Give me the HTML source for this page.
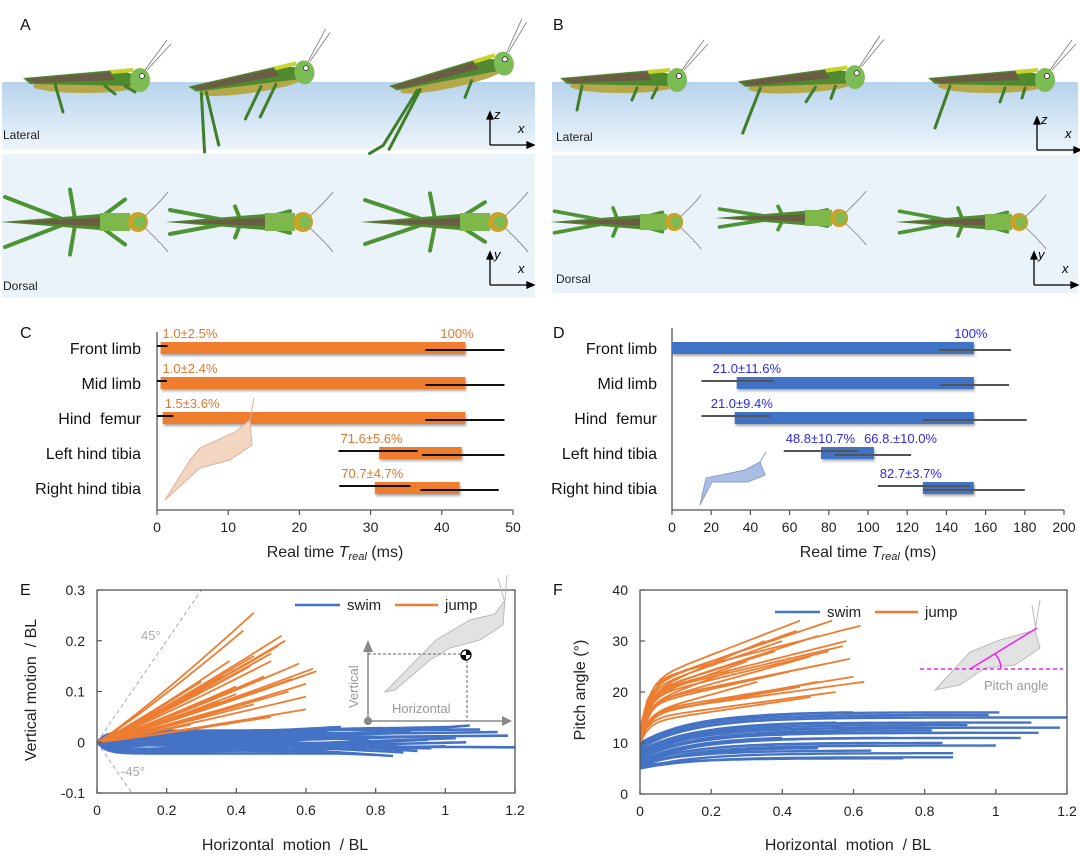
<!DOCTYPE html>
<html><head><meta charset="utf-8"><style>
html,body{margin:0;padding:0;background:#fff;}
svg{display:block;font-family:"Liberation Sans",Arial,sans-serif;}
text{white-space:pre;}
</style></head><body>
<svg id="fig" width="1080" height="858" viewBox="0 0 1080 858" xmlns="http://www.w3.org/2000/svg">
<defs>
<linearGradient id="latg" x1="0" y1="0" x2="0" y2="1"><stop offset="0" stop-color="#b7d3ec"/><stop offset="1" stop-color="#eef5fb"/></linearGradient>
<filter id="sh" x="-5%" y="-30%" width="110%" height="180%"><feDropShadow dx="1" dy="2" stdDeviation="1.2" flood-color="#000" flood-opacity="0.35"/></filter>
</defs>
<rect x="2" y="82" width="533" height="68" fill="url(#latg)"/>
<rect x="2" y="154" width="533" height="144" fill="#ebf3fa"/>
<rect x="552" y="82" width="526" height="70" fill="url(#latg)"/>
<rect x="552" y="155" width="526" height="138" fill="#ebf3fa"/>
<g id="bugs"></g>
<g font-size="12" fill="#222">
<text x="3" y="139">Lateral</text>
<text x="3" y="290">Dorsal</text>
<text x="556" y="141">Lateral</text>
<text x="556" y="283">Dorsal</text>
</g>
<g id="axesicons" stroke="#000" stroke-width="1.3" fill="none"></g>
<g font-size="16" fill="#111">
<text x="20" y="30">A</text>
<text x="553" y="30">B</text>
<text x="20" y="338">C</text>
<text x="553" y="338">D</text>
<text x="20" y="595">E</text>
<text x="553" y="595">F</text>
</g>
<g id="chartC"></g>
<g id="chartD"></g>
<g id="chartE"></g>
<g id="chartF"></g>
</svg>
<script>
// ---------- data: panel C (jump, ms) ----------
const limbCats = ["Front limb","Mid limb","Hind  femur","Left hind tibia","Right hind tibia"];
const cStart = [0.5,0.5,0.8,31.2,30.6];
const cEnd = [43.3,43.3,43.3,42.8,42.5];
const cStartErrLo = [0,0,0,25.5,25.6];
const cStartErrHi = [1.5,1.4,2.3,36.6,35.6];
const cEndErrLo = [37.7,37.7,37.7,37.2,37.0];
const cEndErrHi = [48.8,48.8,48.8,48.8,48.0];
const cLabels = ["1.0±2.5%","1.0±2.4%","1.5±3.6%","71.6±5.6%","70.7±4.7%"];
const cTicks = [0,10,20,30,40,50];
// ---------- data: panel D (swim, ms) ----------
const dStart = [0,33,32,76,128];
const dEnd = [154,154,154,103,154];
const dStartErrLo = [null,15,15,57,105];
const dStartErrHi = [null,52,50,95,152];
const dEndErrLo = [136,137,128,83,128];
const dEndErrHi = [173,172,181,122,180];
const dLabels = ["","21.0±11.6%","21.0±9.4%","48.8±10.7%","82.7±3.7%"];
const dTicks = [0,20,40,60,80,100,120,140,160,180,200];
// ---------- data: panel E ----------
const eJumpX = [0.45,0.42,0.53,0.54,0.52,0.5,0.45,0.38,0.44,0.58,0.62,0.63,0.6,0.6,0.6,0.5,0.35,0.4,0.3,0.48,0.55,0.25,0.33,0.27,0.2,0.45,0.36,0.5,0.56,0.4];
const eJumpY = [0.255,0.22,0.21,0.2,0.19,0.175,0.17,0.16,0.15,0.155,0.145,0.14,0.115,0.09,0.065,0.05,0.08,0.11,0.12,0.13,0.1,0.1,0.06,0.035,0.07,0.075,0.13,0.16,0.125,0.095];
const eSwimX = [1.07,1.01,1.18,1.2,1.06,0.92,0.85,0.8,0.9,0.95,0.7,0.75,0.6,0.65,1.1,0.88,0.5,0.55,1.0,0.82,0.7,0.98,0.6,0.78,1.15,0.45,0.68,0.72,0.93,0.86,0.62,1.03,0.77,0.58,0.96,0.84];
const eSwimY = [0.033,0.03,0.013,-0.01,0.0,-0.017,-0.027,-0.025,0.02,0.005,0.015,-0.01,0.02,-0.015,0.025,-0.02,0.01,-0.018,-0.008,0.028,0.03,0.012,-0.005,0.005,0.02,-0.012,0.024,-0.022,0.018,-0.004,0.026,0.008,-0.016,0.0,-0.012,0.022];
const eYTicks = [-0.1,0,0.1,0.2,0.3];
const eXTicks = [0,0.2,0.4,0.6,0.8,1,1.2];
// ---------- data: panel F ----------
const fJumpX = [0.45,0.54,0.62,0.5,0.58,0.57,0.4,0.35,0.48,0.59,0.52,0.6,0.63,0.5,0.55,0.48,0.42,0.3,0.38,0.45,0.53,0.33,0.25,0.44];
const fJumpY = [34,34,33,31,30,29,30,30,27,26.5,25.5,23,22,22,20,19,24,26,28,21,28,22,24,32];
const fJumpStart = [12,11,13,10.5,11.5,12,12.5,11,10,11,12,10.5,11,10,10.5,10,12,12.5,13,11,11.5,10.5,12,12];
const fSwimX = [1.2,1.18,1.07,1.01,0.88,0.88,0.6,0.74,0.65,0.9,0.95,0.8,0.7,0.5,1.1,0.85,0.6,0.75,1.0,0.55,0.98,0.4,0.82,1.12,0.67,0.92];
const fSwimY = [15,13,11,16,8,7.2,16,7,8.5,14,12,13,11,9,14,10,12,15,9.5,14,15.5,11,12.5,12,10,13.5];
const fSwimStart = [9,8,6,10,5,5,9,5.5,6,8,7,7.5,6.5,5.5,8.5,6,7,9.5,5.5,8,10,6.5,7,7.5,6,8];
const fYTicks = [0,10,20,30,40];
const fXTicks = [0,0.2,0.4,0.6,0.8,1,1.2];

const NS="http://www.w3.org/2000/svg";
function mk(tag,parent,attrs,text){const e=document.createElementNS(NS,tag);for(const k in attrs)e.setAttribute(k,attrs[k]);if(text!==undefined)e.textContent=text;parent.appendChild(e);return e;}

(function(){
  const g=document.getElementById('axesicons');
  const icons=[[490,145,'z'],[490,285,'y'],[1037,150,'z'],[1034,285,'y']];
  icons.forEach(function(ic){
    const x=ic[0],y=ic[1];
    const p=mk('path',g,{d:`M${x} ${y}V${y-30}M${x} ${y}H${x+40}`});
    
    
    const a1=mk('path',g,{d:`M${x-3} ${y-26}L${x} ${y-33}L${x+3} ${y-26}Z M${x+37} ${y-3}L${x+44} ${y}L${x+37} ${y+3}Z`,fill:'#000'});
    
    
    const t1=mk('text',g,{x:x+4,y:y-26,'font-size':13,'font-style':'italic',fill:'#000',stroke:'none'},ic[2]);
    
    
    const t2=mk('text',g,{x:x+28,y:y-12,'font-size':13,'font-style':'italic',fill:'#000',stroke:'none'},'x');
    
    
  });
})();

(function(){
  const g=document.getElementById('bugs');
  function lateral(x,y,s,tilt,legs){
    const b=mk('g',g,{transform:`translate(${x},${y}) rotate(${tilt}) scale(${s})`});
    
    
    mk('ellipse',b,{cx:0,cy:6,rx:52,ry:7,fill:'#b5a84a'});
    mk('path',b,{d:'M-62 -2 L30 -10 L48 -6 L48 6 L-55 4 Z',fill:'#4f8a2e'});
    mk('path',b,{d:'M-60 -1 L25 -8 L30 0 L-50 3 Z',fill:'#6b5c45'});
    mk('path',b,{d:'M25 -10 L48 -12 L48 -8 L27 -6 Z',fill:'#c9d42a'});
    mk('ellipse',b,{cx:55,cy:0,rx:10,ry:12,fill:'#7dbb55'});
    mk('circle',b,{cx:57,cy:-4,r:2.5,fill:'#fff',stroke:'#333','stroke-width':0.8});
    mk('path',b,{d:'M60 -10 L82 -40 M62 -10 L86 -36',stroke:'#777','stroke-width':0.8,fill:'none'});
    mk('path',b,{d:legs,stroke:'#3f7d28','stroke-width':3,fill:'none','stroke-linecap':'round'});
  }
  lateral(85,80,1,0,'M-30 4 L-22 32 M20 6 L30 14 M40 6 L50 12');
  lateral(250,80,1,-8,'M-50 6 L-55 65 M-45 6 L-40 60 M10 8 L-10 38 M25 8 L5 38');
  lateral(450,75,1,-12,'M-35 8 L-80 55 L-95 60 M-32 8 L-75 60 M20 10 L10 25');
  lateral(622,80,1,0,'M-40 6 L-45 30 M15 8 L10 20 M35 8 L30 18');
  lateral(800,80,1,-3,'M-40 6 L-60 50 M15 8 L5 22 M35 8 L30 20');
  lateral(990,80,1,0,'M-40 6 L-55 48 M15 8 L10 22 M35 8 L32 18');
  function dorsal(x,y,s,spread){
    const b=mk('g',g,{transform:`translate(${x},${y}) scale(${s})`});
    
    
    const L=spread;
    mk('path',b,{d:`M-30 0 L-95 ${-L} M-30 0 L-95 ${L} M-25 -3 L-30 ${-L*1.3} M-25 3 L-30 ${L*1.3} M0 -4 L25 ${-L*0.9} M0 4 L25 ${L*0.9}`,stroke:'#4e9434','stroke-width':4,fill:'none','stroke-linecap':'round'});
    mk('path',b,{d:'M-100 0 L0 -8 L30 -8 L30 8 L0 8 Z',fill:'#4f8a2e'});
    mk('path',b,{d:'M-95 0 L0 -4 L0 4 Z',fill:'#6b5c45'});
    mk('rect',b,{x:0,y:-9,width:30,height:18,fill:'#7fb84a'});
    mk('ellipse',b,{cx:38,cy:0,rx:10,ry:10,fill:'#c9a22a'});
    mk('circle',b,{cx:40,cy:0,r:6,fill:'#7dbb55'});
    mk('path',b,{d:'M45 -6 Q60 -20 68 -30 M45 6 Q60 20 68 30',stroke:'#777','stroke-width':0.8,fill:'none'});
  }
  dorsal(100,222,1,25);
  dorsal(265,222,1,12);
  dorsal(460,222,1,22);
  dorsal(640,222,0.9,12);
  dorsal(805,218,0.9,10);
  dorsal(985,222,0.9,12);
})();

function timing(gid,opt){
  const g=document.getElementById(gid);
  const sx=v=>opt.x0+(v-opt.t0)/(opt.t1-opt.t0)*(opt.x1-opt.x0);
  const rowY=[348,383,418,453,488];
  const ax=mk('path',g,{d:`M${opt.x0} ${opt.ytop}V510H${opt.x1}`,stroke:'#555','stroke-width':1.3,fill:'none'});
  
  
  opt.ticks.forEach(function(t){
    const tx=sx(t);
    const tk=mk('line',g,{x1:tx,x2:tx,y1:510,y2:515,stroke:'#555','stroke-width':1.2});
    
    
    const tl=mk('text',g,{x:tx,y:532,'text-anchor':'middle','font-size':14,fill:'#222'},String(t));
    
    
  });
  const ttl=mk('text',g,{x:opt.titleX,y:557,'text-anchor':'middle','font-size':16,fill:'#222'});
  
  
  ttl.innerHTML='Real time <tspan font-style="italic">T</tspan><tspan font-style="italic" font-size="11" dy="3">real</tspan><tspan dy="-3"> (ms)</tspan>';
  limbCats.forEach(function(c,i){
    const y=rowY[i];
    const cl=mk('text',g,{x:opt.labelX,y:y+6,'text-anchor':'end','font-size':16,fill:'#111'},c);
    
    
    const bar=mk('rect',g,{x:sx(opt.start[i]),y:y-6,width:sx(opt.end[i])-sx(opt.start[i]),height:12,fill:opt.color,filter:'url(#sh)'});
    
    
    if(opt.sLo[i]!==null){
      const e1=mk('line',g,{x1:sx(opt.sLo[i]),x2:sx(opt.sHi[i]),y1:y-2,y2:y-2,stroke:opt.err,'stroke-width':2});
      
      
    }
    const e2=mk('line',g,{x1:sx(opt.eLo[i]),x2:sx(opt.eHi[i]),y1:y+2,y2:y+2,stroke:opt.err,'stroke-width':2});
    
    
    if(opt.labels[i]){
      const lx=i<3?sx(opt.start[i])+(opt.startLabelPad):sx(opt.sLo[i])+2;
      const lb=mk('text',g,{x:lx,y:y-10,'font-size':13,fill:opt.lc},opt.labels[i]);
      
      
    }
  });
  opt.extra(g,sx,rowY);
}
timing('chartC',{x0:157,x1:513,t0:0,t1:50,ytop:332,ticks:cTicks,titleX:335,labelX:141,start:cStart,end:cEnd,sLo:cStartErrLo,sHi:cStartErrHi,eLo:cEndErrLo,eHi:cEndErrHi,labels:cLabels,color:'#ef7d2e',err:'#111',lc:'#e0782f',startLabelPad:2,
 extra:function(g,sx){const t=mk('text',g,{x:sx(39.8),y:338,'font-size':13,fill:'#e0782f'},'100%');
 const gh=mk('path',g,{d:'M165 500 L190 460 L200 448 L235 432 L250 420 L252 445 L230 460 L200 468 Z M250 420 L254 398',fill:'#f3d6c2',stroke:'#d9b49a','stroke-width':1});}});
timing('chartD',{x0:672,x1:1064,t0:0,t1:200,ytop:328,ticks:dTicks,titleX:868,labelX:657,start:dStart,end:dEnd,sLo:dStartErrLo,sHi:dStartErrHi,eLo:dEndErrLo,eHi:dEndErrHi,labels:dLabels,color:'#3f73c6',err:'#555',lc:'#2a2ae8',startLabelPad:-24,
 extra:function(g,sx){const t=mk('text',g,{x:sx(144),y:338,'font-size':13,fill:'#2a2ae8'},'100%');
 const t2=mk('text',g,{x:sx(98),y:443,'font-size':13,fill:'#2a2ae8'},'66.8.±10.0%');
 const gh=mk('path',g,{d:'M700 505 L706 478 L745 470 L760 462 L765 475 L748 482 L712 482 Z M760 462 L766 452',fill:'#aabde3',stroke:'#8aa0cc','stroke-width':1});}});

function frame(g,X0,X1,Y0,Y1,xt,yt,sx,sy,yfmt){
  const fr=mk('rect',g,{x:X0,y:Y1,width:X1-X0,height:Y0-Y1,fill:'none',stroke:'#555','stroke-width':1.3});
  
  
  xt.forEach(function(t){
    const tk=mk('line',g,{x1:sx(t),x2:sx(t),y1:Y0,y2:Y0-5,stroke:'#555','stroke-width':1.2});
    
    
    const tl=mk('text',g,{x:sx(t),y:Y0+22,'text-anchor':'middle','font-size':14,fill:'#222'},String(t));
    
    
  });
  yt.forEach(function(t){
    const tk=mk('line',g,{x1:X0,x2:X0+5,y1:sy(t),y2:sy(t),stroke:'#555','stroke-width':1.2});
    
    
    const tl=mk('text',g,{x:X0-12,y:sy(t)+5,'text-anchor':'end','font-size':14,fill:'#222'},yfmt(t));
    
    
  });
}
function legend(g,x,y){
  const a=mk('line',g,{x1:x,x2:x+45,y1:y,y2:y,stroke:'#4472c4','stroke-width':2.5});
  
  
  const b=mk('text',g,{x:x+52,y:y+5,'font-size':15,fill:'#222'},'swim');
  
  
  const c=mk('line',g,{x1:x+100,x2:x+143,y1:y,y2:y,stroke:'#ed7d31','stroke-width':2.5});
  
  
  const d=mk('text',g,{x:x+150,y:y+5,'font-size':15,fill:'#222'},'jump');
  
  
}
function pathFrom(fn,xe,sx,sy,n){let d='';for(let k=0;k<=n;k++){const x=xe*k/n;d+=(k?'L':'M')+sx(x).toFixed(1)+' '+sy(fn(x)).toFixed(1);}return d;}

(function(){
  const g=document.getElementById('chartE');
  const X0=97,X1=515,Y0=793,Y1=590;
  const sx=v=>X0+v/1.2*(X1-X0);
  const sy=v=>Y0-(v+0.1)/0.4*(Y0-Y1);
  const clip=mk('clipPath',g,{id:'clipE'});mk('rect',clip,{x:X0,y:Y1,width:X1-X0,height:Y0-Y1});
  const d45=mk('path',g,{d:`M${sx(0)} ${sy(0)}L${sx(0.3)} ${sy(0.3)}M${sx(0)} ${sy(0)}L${sx(0.1)} ${sy(-0.1)}`,stroke:'#aaa','stroke-dasharray':'4 3',fill:'none','stroke-width':1});
  
  
  const l1=mk('text',g,{x:141,y:640,'font-size':13,fill:'#aaa'},'45°');
  const l2=mk('text',g,{x:121,y:776,'font-size':13,fill:'#aaa'},'-45°');
  const lg=mk('g',g,{'clip-path':'url(#clipE)'});
  eSwimX.forEach(function(xe,i){
    const ye=eSwimY[i];
    const off=((i*7)%9-4)/4*0.022;
    const fn=x=>{const r=x/xe;const e=1-Math.exp(-x/0.025);return e*(off*(1-r)+ye*r);};
    const p=mk('path',lg,{d:pathFrom(fn,xe,sx,sy,40),stroke:'#4472c4','stroke-width':2.6,fill:'none'});
    
    
  });
  eJumpX.forEach(function(xe,i){
    const ye=eJumpY[i];
    const fn=x=>ye*Math.pow(x/xe,1.1);
    const p=mk('path',lg,{d:pathFrom(fn,xe,sx,sy,20),stroke:'#ed7d31','stroke-width':1.8,fill:'none'});
    
    
  });
  frame(g,X0,X1,Y0,Y1,eXTicks,eYTicks,sx,sy,t=>String(t));
  legend(g,295,605);
  const ins=mk('g',g,{});
  
  
  mk('path',ins,{d:'M436 640 L470 620 L495 614 L505 600 L503 625 L480 640 L450 648 L430 660 L395 690 L385 692 Z',fill:'#e2e2e2',stroke:'#bbb','stroke-width':1});
  mk('path',ins,{d:'M505 600 L507 575 M504 600 L498 578',stroke:'#bbb',fill:'none'});
  mk('path',ins,{d:'M368 721V650M368 721H505',stroke:'#888','stroke-width':1.5,fill:'none'});
  mk('path',ins,{d:'M363 652L368 640L373 652Z M502 716L512 721L502 726Z',fill:'#888'});
  mk('path',ins,{d:'M368 654H467V721',stroke:'#666','stroke-dasharray':'3 2',fill:'none'});
  mk('circle',ins,{cx:368,cy:721,r:4,fill:'#888'});
  mk('circle',ins,{cx:466,cy:655,r:5,fill:'#fff',stroke:'#000','stroke-width':1.2});
  mk('path',ins,{d:'M466 650A5 5 0 0 1 471 655L466 655Z M466 660A5 5 0 0 1 461 655L466 655Z',fill:'#000'});
  mk('text',ins,{x:392,y:713,'font-size':13,fill:'#999'},'Horizontal');
  mk('text',ins,{x:0,y:0,'font-size':13,fill:'#999',transform:'translate(358,708) rotate(-90)'},'Vertical');
  const yt=mk('text',g,{x:0,y:0,'font-size':16,fill:'#222','text-anchor':'middle',transform:'translate(36,690) rotate(-90)'},'Vertical motion  / BL');
  
  const xt=mk('text',g,{x:285,y:850,'font-size':16,fill:'#222','text-anchor':'middle'},'Horizontal  motion  / BL');
  
})();

(function(){
  const g=document.getElementById('chartF');
  const X0=640,X1=1067,Y0=794,Y1=590;
  const sx=v=>X0+v/1.2*(X1-X0);
  const sy=v=>Y0-v/40*(Y0-Y1);
  const clip=mk('clipPath',g,{id:'clipF'});mk('rect',clip,{x:X0,y:Y1,width:X1-X0,height:Y0-Y1});
  const lg=mk('g',g,{'clip-path':'url(#clipF)'});
  fSwimX.forEach(function(xe,i){
    const s=fSwimStart[i],ye=fSwimY[i];
    const fn=x=>s+(ye-s)*(1-Math.exp(-x/0.15))/(1-Math.exp(-xe/0.15));
    const p=mk('path',lg,{d:pathFrom(fn,xe,sx,sy,40),stroke:'#4472c4','stroke-width':2.4,fill:'none'});
    
    
  });
  fJumpX.forEach(function(xe,i){
    const s=fJumpStart[i],ye=fJumpY[i];
    const fn=x=>s+(ye-s)*(0.45*(1-Math.exp(-x/0.025))+0.55*x/xe);
    const p=mk('path',lg,{d:pathFrom(fn,xe,sx,sy,30),stroke:'#ed7d31','stroke-width':1.8,fill:'none'});
    
    
  });
  frame(g,X0,X1,Y0,Y1,fXTicks,fYTicks,sx,sy,t=>String(t));
  legend(g,775,612);
  const ins=mk('g',g,{});
  
  
  mk('path',ins,{d:'M970 652 L1000 640 L1035 630 L1040 648 L1015 665 L985 668 L960 685 L935 690 Z',fill:'#e2e2e2',stroke:'#bbb','stroke-width':1});
  mk('path',ins,{d:'M1035 630 L1040 600 M1036 630 L1032 605',stroke:'#bbb',fill:'none'});
  mk('line',ins,{x1:920,x2:1063,y1:669,y2:669,stroke:'#ee22ee','stroke-dasharray':'4 3','stroke-width':1.5});
  mk('line',ins,{x1:970,x2:1037,y1:669,y2:628,stroke:'#ee22ee','stroke-width':1.5});
  mk('path',ins,{d:'M995 654 A22 22 0 0 1 1001 669',stroke:'#ee22ee','stroke-width':1.5,fill:'none'});
  mk('text',ins,{x:984,y:690,'font-size':13,fill:'#999'},'Pitch angle');
  const yt=mk('text',g,{x:0,y:0,'font-size':16,fill:'#222','text-anchor':'middle',transform:'translate(585,690) rotate(-90)'},'Pitch angle (°)');
  
  const xt=mk('text',g,{x:848,y:850,'font-size':16,fill:'#222','text-anchor':'middle'},'Horizontal  motion  / BL');
  
})();
</script>
</body></html>
